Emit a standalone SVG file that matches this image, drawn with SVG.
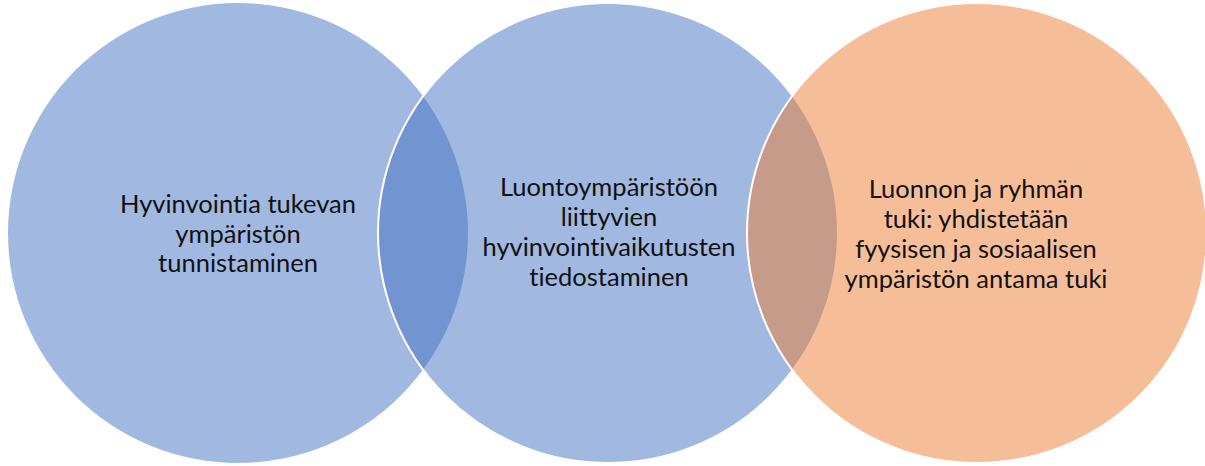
<svg xmlns="http://www.w3.org/2000/svg" width="1205" height="466" viewBox="0 0 1205 466">
<style>
.blue{fill:#4472C4;fill-opacity:0.5}
.orange{fill:#ED7D31;fill-opacity:0.5}
.edge{stroke:#ffffff;stroke-width:2}
.t{font-family:Lato,"Open Sans","Liberation Sans",sans-serif;font-size:25.5px;fill:#111111;text-anchor:middle;font-variant-ligatures:none}
</style>
<rect width="1205" height="466" fill="#ffffff"/>
<g id="node-left">
<circle class="blue" cx="238" cy="233" r="230"/>
<text class="t" x="238" y="213">Hyvinvointia tukevan</text>
<text class="t" x="238" y="243">ympäristön</text>
<text class="t" x="238" y="272">tunnistaminen</text>
</g>
<g id="node-middle">
<circle class="blue edge" cx="608" cy="233" r="230"/>
<text class="t" x="609" y="196">Luontoympäristöön</text>
<text class="t" x="609" y="226">liittyvien</text>
<text class="t" x="609" y="256">hyvinvointivaikutusten</text>
<text class="t" x="609" y="286">tiedostaminen</text>
</g>
<g id="node-right">
<circle class="orange edge" cx="977" cy="233" r="230"/>
<text class="t" x="976" y="198">Luonnon ja ryhmän</text>
<text class="t" x="976" y="228">tuki: yhdistetään</text>
<text class="t" x="976" y="258">fyysisen ja sosiaalisen</text>
<text class="t" x="976" y="288">ympäristön antama tuki</text>
</g>
<g id="connectors"></g>
</svg>
